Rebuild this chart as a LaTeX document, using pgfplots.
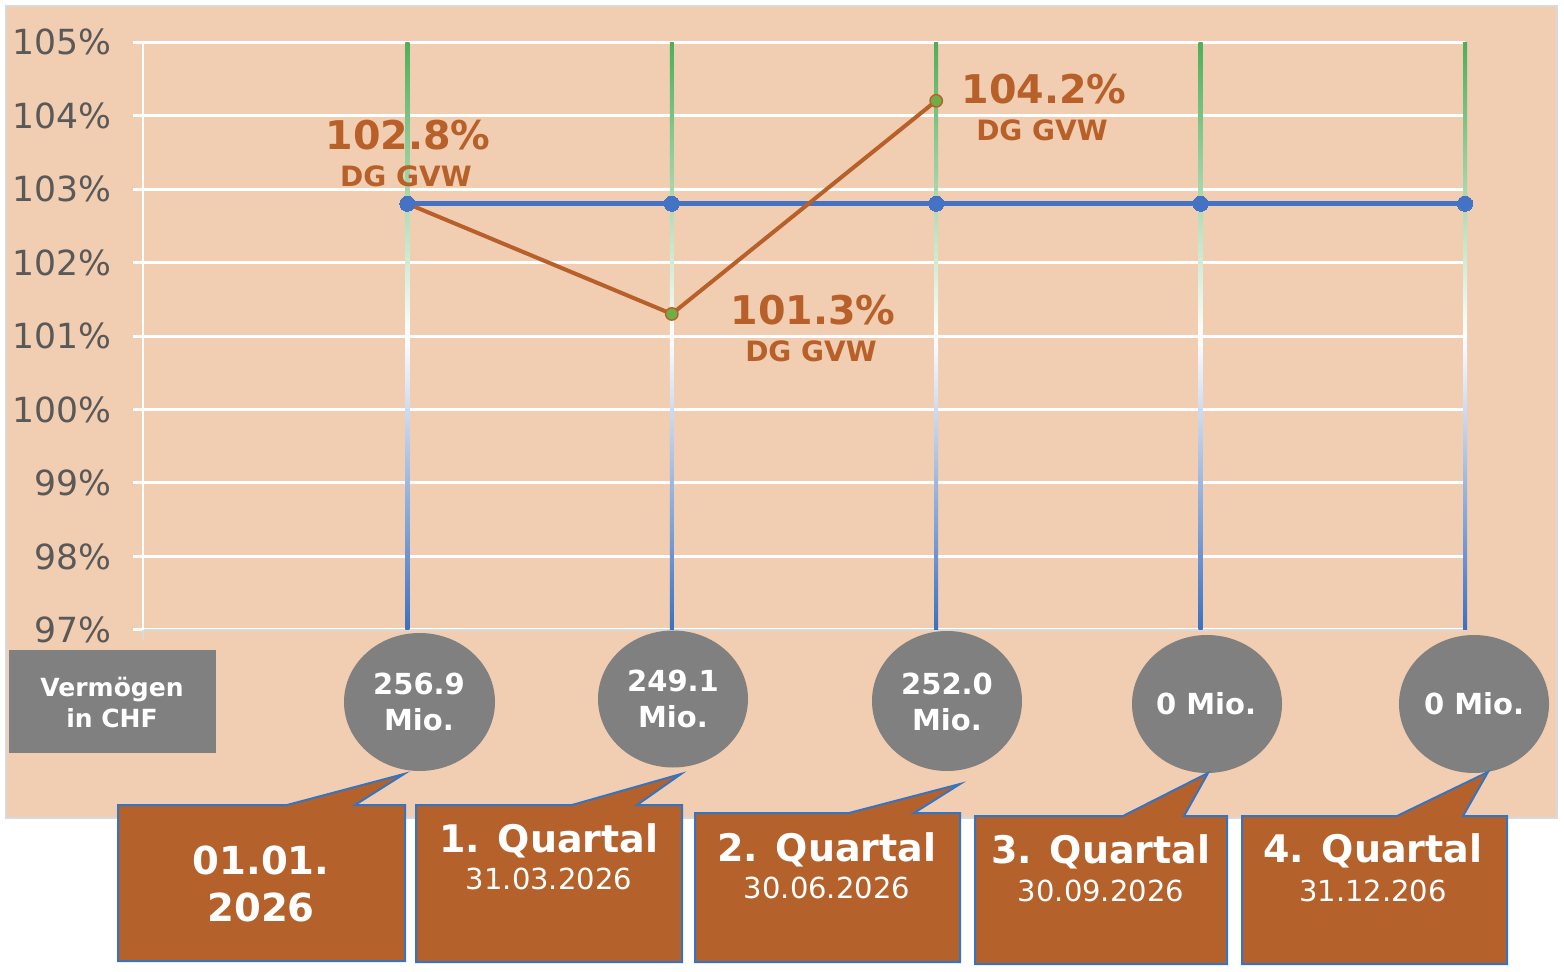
\documentclass[border=0pt]{standalone}
\usepackage{pgfplots}
\pgfplotsset{compat=1.18}
\usepackage{fontspec}
\setmainfont{DejaVu Sans}
\definecolor{peach}{HTML}{F1CDB1}
\definecolor{bordergray}{HTML}{D9D9D9}
\definecolor{tickgray}{HTML}{595959}
\definecolor{dorange}{HTML}{B8602A}
\definecolor{cfill}{HTML}{B5612B}
\definecolor{cborder}{HTML}{3574C0}
\definecolor{lblue}{HTML}{4472C4}
\definecolor{mgreen}{HTML}{70AD47}
\definecolor{dgreen}{HTML}{4CAF5A}
\definecolor{dblue}{HTML}{3A70C2}
\definecolor{bgray}{HTML}{808080}
\newcommand{\fs}[1]{\fontsize{#1}{#1}\selectfont}
\begin{document}
\begin{tikzpicture}[x=0.5pt,y=-0.5pt]
\fill[white] (0,0) rectangle (1564,972);
\draw[fill=peach, draw=bordergray, line width=1pt] (6,6) rectangle (1557,818);
\begin{axis}[at={(71.5pt,-315pt)}, anchor=south west, scale only axis,
  width=661pt, height=294pt,
  xmin=-1, xmax=4, ymin=97, ymax=105,
  xtick=\empty, ytick={97,98,...,105},
  extra x ticks={-1}, extra x tick labels={},
  extra x tick style={tick style={draw=bordergray, line width=1pt}},
  ymajorgrids, grid style={white, line width=1.5pt},
  axis x line*=bottom, axis y line*=left,
  x axis line style={draw=bordergray, line width=1pt, -},
  y axis line style={draw=white, line width=1pt, -},
  ytick style={draw=white, line width=1.5pt},
  tick align=outside, major tick length=5pt,
  yticklabel={\pgfmathprintnumber{\tick}\%},
  yticklabel style={font=\fs{17.3}, text=tickgray, xshift=-7.5pt},
  /pgf/number format/assume math mode=true,
  clip=false]
\pgfplotsinvokeforeach{0,1,2,3,4}{
  \shade[top color=dgreen, bottom color=dblue, middle color=white]
    ([xshift=-1pt]axis cs:#1,105) rectangle ([xshift=1pt]axis cs:#1,97);
}
\addplot[color=lblue, line width=2.4pt, mark=*, mark size=3.8pt,
  mark options={fill=lblue, draw=lblue, line width=0pt}]
  coordinates {(0,102.8)(1,102.8)(2,102.8)(3,102.8)(4,102.8)};
\addplot[color=dorange, line width=2pt, mark=*, mark indices={2,3}, mark size=3.1pt,
  mark options={fill=mgreen, draw=dorange, line width=0.7pt}]
  coordinates {(0,102.8)(1,101.3)(2,104.2)};
\end{axis}
% data labels
\begin{scope}[every node/.style={anchor=base, inner sep=0pt, text=dorange, font=\bfseries}]
\node[font=\bfseries\fs{19.8}] at (408,150) {102.8\%};
\node[font=\bfseries\fs{14}] at (406,187) {DG GVW};
\node[font=\bfseries\fs{19.8}] at (813,325) {101.3\%};
\node[font=\bfseries\fs{14}] at (811,362) {DG GVW};
\node[font=\bfseries\fs{19.8}] at (1044,104) {104.2\%};
\node[font=\bfseries\fs{14}] at (1042,141) {DG GVW};
\end{scope}
% Vermoegen box
\fill[bgray] (9,650) rectangle (216,753);
\begin{scope}[every node/.style={anchor=base, inner sep=0pt, text=white, font=\bfseries\fs{12.5}}]
\node at (112,697) {Vermögen};
\node at (112,727) {in CHF};
\end{scope}
% ellipses
\fill[bgray] (419.5,702) ellipse [x radius=75.5, y radius=69];
\fill[bgray] (673,699) ellipse [x radius=75, y radius=68.5];
\fill[bgray] (947,701) ellipse [x radius=75, y radius=70];
\fill[bgray] (1207,704) ellipse [x radius=75, y radius=69];
\fill[bgray] (1474,704) ellipse [x radius=75, y radius=69];
\begin{scope}[every node/.style={anchor=base, inner sep=0pt, text=white, font=\bfseries\fs{14.5}}]
\node at (419,695) {256.9};
\node at (419,731) {Mio.};
\node at (673,692) {249.1};
\node at (673,727) {Mio.};
\node at (947,695) {252.0};
\node at (947,731) {Mio.};
\node at (1206,715) {0 Mio.};
\node at (1474,715) {0 Mio.};
\end{scope}
% callouts
\begin{scope}[fill=cfill, draw=cborder, line width=1pt, line join=miter]
\filldraw (118,805) -- (287,805) -- (404,774) -- (355,805) -- (405,805) -- (405,961) -- (118,961) -- cycle;
\filldraw (416,805) -- (572,805) -- (681,774) -- (637,805) -- (682,805) -- (682,962) -- (416,962) -- cycle;
\filldraw (695,813) -- (849,813) -- (960,784) -- (914,813) -- (960,813) -- (960,962) -- (695,962) -- cycle;
\filldraw (975,816) -- (1123,816) -- (1208,773) -- (1184,816) -- (1227,816) -- (1227,964) -- (975,964) -- cycle;
\filldraw (1242,816) -- (1397,816) -- (1488,772) -- (1463,816) -- (1507,816) -- (1507,964) -- (1242,964) -- cycle;
\end{scope}
\begin{scope}[every node/.style={anchor=base, inner sep=0pt, text=white}]
\node[font=\bfseries\fs{19.3}] at (261,874) {01.01.};
\node[font=\bfseries\fs{19.3}] at (261,921) {2026};
\node[font=\bfseries\fs{19}] at (549,852) {1. Quartal};
\node[font=\fs{14.5}] at (549,889) {31.03.2026};
\node[font=\bfseries\fs{19}] at (827,861) {2. Quartal};
\node[font=\fs{14.5}] at (827,898) {30.06.2026};
\node[font=\bfseries\fs{19}] at (1101,863) {3. Quartal};
\node[font=\fs{14.5}] at (1101,901) {30.09.2026};
\node[font=\bfseries\fs{19}] at (1373,862) {4. Quartal};
\node[font=\fs{14.5}] at (1373,901) {31.12.206};
\end{scope}
\end{tikzpicture}
\end{document}
